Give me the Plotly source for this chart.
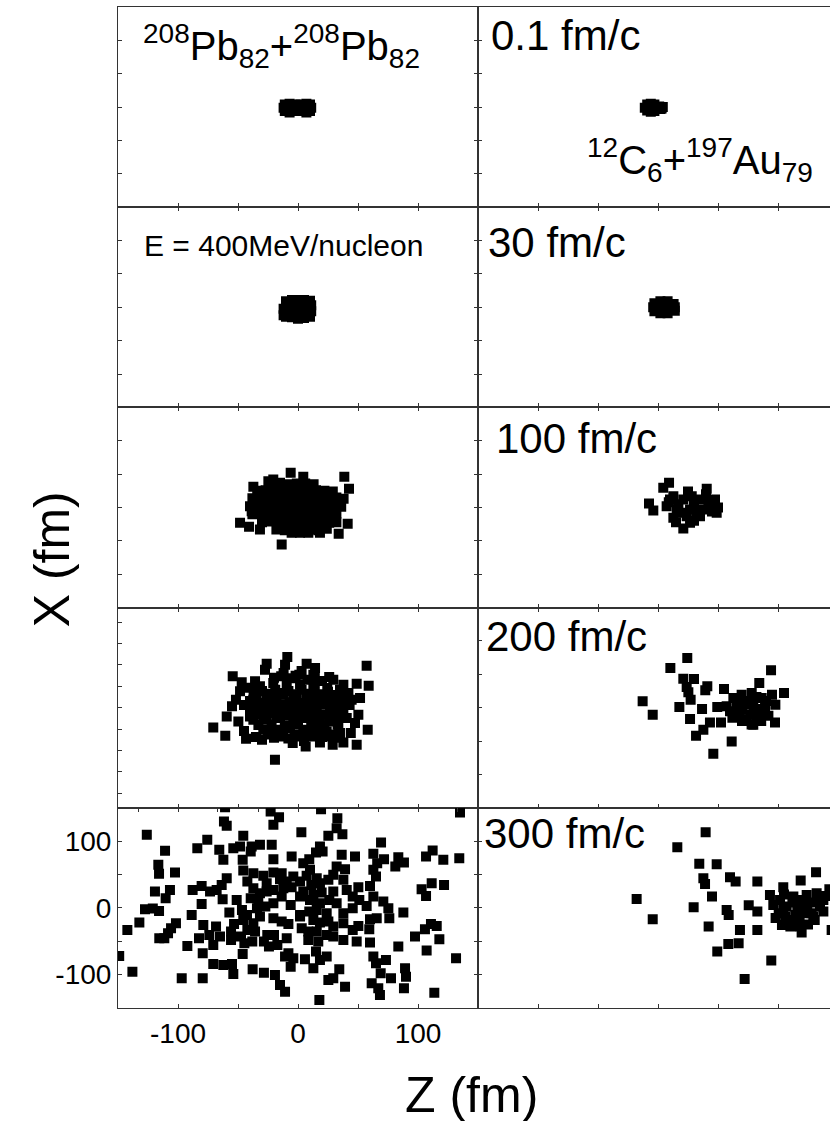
import plotly.graph_objects as go
from plotly.subplots import make_subplots

# ---------------- data: (Z, X) positions in fm ----------------
PB_01 = [(-12, -1), (-11, 4), (-11, -6), (-7, 5), (-7, -8), (-4, -1), (-8, -2), (3, -1),
         (7, 5), (7, -8), (10, 4), (10, -6), (11, -1), (6, -2), (0, 3), (-1, -5),
         (0, -1), (-2, 4), (2, 4), (-2, -6), (2, -6)]
CAU_01 = [(-11, -1), (-9, 4), (-9, -5), (-6, 5), (-6, -7), (-4, -1), (-8, -1), (-3, 4),
          (-3, -6), (1, 1), (3, -2), (4, 0), (2, -3)]
PB_30 = [(-12, -12), (-12, -2), (-10, 9), (-5, 11), (0, 11), (5, 11), (10, 10), (11, 3),
         (11, -6), (10, -14), (5, -16), (0, -17), (-5, -15), (-10, -14), (-5, 0), (0, 0),
         (5, 0), (-6, 6), (6, 6), (0, -9), (-6, -8), (6, -8)]
CAU_30 = [(-4, 0), (-3, 6), (-3, -6), (2, 9), (2, -9), (8, 9), (8, -9), (13, 5), (14, 0),
          (14, -5), (5, 0), (10, 0), (0, 0), (5, 4)]
PB_100 = [(38.6, 46), (42.5, 28), (-48.3, -23), (-40.8, -29), (-31.7, -33), (-13.6, -55.5),
          (33.9, -39.5), (41.4, -24.5), (-6.1, 52), (4.4, 46), (-20.6, 42), (-37.2, 31),
          (-37.2, 12), (-38.6, -5.5), (-28.9, 22), (-24.7, 39.5), (-5.3, -38), (8.6, -38),
          (18.3, -38), (1.7, -38),
          (-22, 36), (-15, 37), (-8, 35), (-1, 36), (6, 36), (13, 35),
          (-34, 25), (-27, 26), (-20, 24), (-13, 26), (-6, 25), (1, 26), (8, 24), (15, 26),
          (22, 25), (29, 24),
          (-38, 14), (-31, 15), (-24, 13), (-17, 14), (-10, 15), (-3, 13), (4, 14), (11, 15),
          (18, 13), (25, 14), (32, 15), (38, 13),
          (-40, 2), (-33, 3), (-26, 1), (-19, 2), (-12, 3), (-5, 1), (2, 2), (9, 3), (16, 1),
          (23, 2), (30, 3), (36, 1),
          (-38, -10), (-31, -9), (-24, -11), (-17, -10), (-10, -9), (-3, -11), (4, -10),
          (11, -9), (18, -11), (25, -10), (32, -9),
          (-30, -22), (-23, -21), (-16, -23), (-9, -22), (-2, -21), (5, -23), (12, -22),
          (19, -21), (26, -23), (32, -22),
          (-18, -33), (-11, -34), (-4, -32), (3, -34), (10, -33), (17, -34), (24, -32)]
CAU_100 = [(9.2, 37), (4.4, 29.5), (40.6, 28), (-7.5, 6), (-3.9, -4.5), (21.1, -31.5),
           (26.7, -23), (47.5, 12), (48.9, -8), (7.2, 2), (12.8, 17), (15.6, -3), (21.1, 12),
           (26.7, -3), (35, 12), (37.8, -3), (12.8, -15.5), (23.9, -13), (35, -13), (43.3, 2),
           (10, 12), (28.1, 17), (17, 5), (30, 5), (42, 7), (20, -8), (32, -8), (45, -6),
           (9, 8), (25, 24), (15, -22), (30, -20), (40, 20), (50, 0)]
PB_200 = [(-8.9, 76), (-26.1, 66), (-10.8, 64.5), (7.2, 66), (14.2, 59.5), (57.2, 63),
          (-54.4, 47), (-46.9, 38), (-35.8, 39.5), (-27.5, 57), (1.1, 49.5), (12.8, 49.5),
          (29.4, 42), (37.8, 34.5), (48.9, 36), (58.9, 33), (-48.3, 24.5), (-51.7, 12),
          (-37.2, 12), (51.7, 14.5), (44.7, 12), (-55, 2), (-59.4, -13), (-49.7, -20.5),
          (-70.6, -29.5), (-60.6, -42), (-43.3, -46.5), (-35, -44), (-19.2, -78), (-4.4, -53),
          (6.4, -58), (18.3, -52), (28.9, -55.5), (37.8, -52), (48.9, -55.5), (58.1, -33),
          (50.3, -10.5), (47.5, -23), (33.6, -28), (26.9, -43), (-23.3, -38), (-12.2, -43),
          (12.8, -43),
          (-31.7, 32), (-20.6, 37), (-9.4, 37), (1.7, 34.5), (12.8, 32), (24.4, 29.5),
          (35, 27), (-34.4, 17), (-23.3, 17), (-12.2, 19.5), (-1.1, 17), (10, 17),
          (21.1, 14.5), (32.2, 12), (-40, -3), (-28.9, -0.5), (-17.8, -0.5), (-6.7, 2),
          (4.4, -0.5), (15.6, 2), (26.7, -3), (37.8, -0.5), (-37.2, -18), (-26.1, -18),
          (-15, -15.5), (-3.9, -18), (7.2, -15.5), (18.3, -18), (29.4, -20.5), (40.6, -15.5),
          (-28.9, -33), (-17.8, -33), (-6.7, -30.5), (4.4, -33), (15.6, -30.5), (23.9, -35.5),
          (35, -38), (1.7, -43),
          (-40, 10), (-29, 7), (-18, 9), (-7, 8), (4, 7), (15, 9), (26, 8), (37, 6),
          (-35, -10), (-24, -8), (-13, -9), (-2, -7), (9, -8), (20, -10), (31, -9),
          (-30, 25), (-19, 27), (-8, 25), (3, 27), (14, 26), (25, 24), (36, 24),
          (-33, -26), (-22, -25), (-11, -27), (0, -25), (11, -26), (22, -27), (33, -25),
          (-20, 45), (-5, 44), (8, 42), (20, 40), (-20, -45), (-8, -46), (20, -44), (30, -45),
          (-40, 30), (-45, -35), (42, 22), (44, -38), (-12, 52), (3, 55), (-30, -48), (5, -50),
          (-37, 20), (-26, 21), (-15, 22), (-4, 20), (7, 21), (18, 20), (29, 19), (40, 18),
          (-40, -13), (-29, -13), (-18, -12), (-7, -12), (4, -13), (15, -12), (26, -13),
          (37, -12), (-25, -40), (-14, -40), (-3, -40), (8, -40), (19, -38), (30, -40),
          (-14, 47), (-2, 48), (14, 45), (26, 46), (-45, 4), (-34, 4), (-23, 4), (-12, 5),
          (-1, 4), (10, 5), (21, 5), (32, 4), (43, 4)]
CAU_200 = [(24.4, 74.5), (10.3, 59.5), (94.2, 56), (21.1, 43.5), (30, 43), (23.9, 31),
           (25.3, 23), (41.1, 32), (39.4, 26), (55, 28), (84.4, 37), (105, 22), (95, 19.5),
           (-12.8, 9.5), (27.2, 12), (17.8, 1), (36.7, -2), (49.4, 1), (-4.4, -10.5),
           (26.7, -17), (43.3, -22), (52.5, -22), (97.5, -22), (97.8, 4.5), (37.8, -33),
           (31.7, -42), (61.4, -50.5), (46.1, -69), (79.4, -25.5), (62.8, 14.5), (69.7, 19.5),
           (78.1, 22), (86.4, 14.5), (89.2, 2), (65.6, 2), (72.5, 4.5), (79.4, 7), (85, -5.5),
           (76.7, -10.5), (68.3, -10.5), (60, -5.5), (73.9, -18), (82.2, -15.5), (87.8, -10.5),
           (57.2, 2), (62, -15), (70, -20), (78, -25), (86, -20), (92, -12), (74, 10), (82, 16),
           (90, 10), (66, 12), (80, -2), (70, -2), (88, -2)]
PB_300 = [(-60.8, 151), (-22.8, 144.5), (-15.8, 136), (19.2, 148), (135, 143), (32.8, 134.5),
          (-61.7, 129.5), (-59.4, 123), (-20.5, 124.5), (-126, 109.5), (2.8, 113.5),
          (32.2, 119.5), (37, 110.5), (25.3, 108), (-45.6, 108), (-75.6, 102), (69.2, 98),
          (-110.8, 85.5), (-83.9, 89.5), (-65.6, 87), (-53.9, 89.5), (-48.3, 92), (-38.6, 92),
          (-31.7, 94.5), (-21.9, 94.5), (-39.4, 84.5), (-62.2, 72), (-46.1, 72), (-20.5, 73),
          (-5.3, 77), (4.4, 67), (9.4, 73), (18.3, 92), (20.5, 84.5), (15, 83), (36.4, 79.5),
          (47.5, 77), (62.8, 81), (71.7, 73), (66, 67), (83.6, 76), (88.3, 68), (81.1, 62),
          (106.7, 77), (112.2, 86), (121.1, 72), (134.4, 74.5), (-116.4, 64.5), (-115.8, 51),
          (-102.5, 53), (32.2, 62), (39.2, 58), (62.8, 57), (65, 47), (-45.6, 56), (-37.2, 52),
          (-28.9, 48), (-20.5, 53), (-13.6, 52), (-15, 43), (-3.9, 47), (10, 57), (15.6, 44.5),
          (25.3, 42), (37.8, 42), (-59.4, 44.5), (-63.6, 34.5), (-42.2, 39.5), (1.7, 39.5),
          (11.1, 34.5), (18.3, 37), (111.4, 37), (121.7, 34.5), (103, 28), (106.7, 18),
          (-119.2, 24.5), (-110.3, 14.5), (-106.7, 27), (-87.8, 27), (-80.3, 33), (-73.3, 24.5),
          (-67.8, 27), (-37.2, 29.5), (-31.7, 22), (-26.1, 24.5), (-20.5, 27), (-12.2, 29.5),
          (-5.3, 31), (4.4, 24.5), (12.8, 19.5), (19.7, 23), (29.4, 24.5), (40.6, 27),
          (50.3, 31), (60, 33), (45.6, 17), (51.1, 12), (62.8, 17), (-62.8, 13), (-51.1, 12),
          (-39.4, 14.5), (-33.1, 9.5), (-20.5, 7), (-13.6, 17), (1.7, 17), (10, 12), (18.3, 7),
          (26.1, 12), (32.2, 7), (57.2, 3), (71.1, 9.5), (75.3, -0.5), (87.8, -7),
          (-127.5, -2), (-115.8, -4.5), (-121, -1), (-80.3, 6), (-88.6, -10.5), (-57.2, -7),
          (-46.7, -3), (-42.5, -10.5), (-34.2, -0.5), (-27.2, 2), (-6.1, 4.5), (1.7, -10.5),
          (9.4, -5.5), (15.6, -3), (23.9, -8), (37.8, -8), (45.6, -0.5), (-132.2, -22),
          (-142.2, -33), (-101.7, -23), (-105.8, -30.5), (-108.3, -38), (-115.6, -45.5),
          (-111.4, -45.5), (-78.9, -25.5), (-68.3, -28), (-53.3, -24), (-45.6, -18),
          (-37.2, -23), (-35.8, -35.5), (-13.6, -20.5), (-8, -24), (1.7, -13), (12.8, -18),
          (18.3, -22), (25.3, -20.5), (37.8, -23), (50.3, -27), (60, -17), (65.6, -15.5),
          (76.1, -15.5), (3.1, -30.5), (8.6, -35.5), (15.6, -35.5), (45.6, -33), (59.4, -32),
          (105.8, -32), (110.8, -24), (115.6, -27), (97.5, -43), (117.8, -47), (-92.2, -57),
          (-82.5, -45.5), (-73.9, -40.5), (-70.6, -55.5), (-65, -43), (-55.8, -48),
          (-47.5, -43), (-44.7, -53), (-38.1, -50.5), (-28.4, -50.5), (-25.6, -40.5),
          (-20, -40.5), (-17.2, -55.5), (-24.2, -58), (-8, -68), (-3.9, -75.5), (-10.8, -73),
          (8.6, -48), (16.9, -50.5), (23.9, -40.5), (29.4, -43), (37.8, -48), (48.9, -50.5),
          (60, -52), (83.6, -58), (107.2, -64), (-79.4, -68), (-70.6, -84), (-62.2, -85.5),
          (-55, -84), (-46.1, -69), (-53.9, -99), (-37.8, -92), (-28.4, -97), (-19.2, -100.5),
          (-15, -115.5), (-10.8, -125.5), (-6.1, -88), (5.8, -77), (12.8, -90.5), (18.3, -78),
          (23.9, -73), (25.3, -108), (29.4, -105.5), (34.4, -92), (39.2, -118), (17.8, -138),
          (62.8, -73), (65, -83), (73.3, -78), (68.9, -98), (77.5, -105.5), (61.4, -113),
          (66.9, -120.5), (68.3, -130.5), (89.2, -90.5), (90, -103), (88.3, -120.5),
          (113.6, -127), (131.7, -75.5), (-96.9, -105.5), (-79.4, -105.5), (-138, -95.5),
          (-149, -72), (15, -65.5), (-26.1, 37), (-9.4, 39.5), (7.2, 48), (29.4, 49.5),
          (-31.7, -13), (-20.5, -15.5), (29.4, -28), (-42.2, -33), (-55.8, -35.5), (-9.4, -45.5)]
CAU_300 = [(39.7, 113.5), (16.1, 91), (34.4, 66), (48.9, 65.5), (37.8, 44.5), (39.2, 36),
           (60, 46), (64.7, 39.5), (82.8, 39.5), (131.7, 53.5), (118.9, 41), (45, 17),
           (-17.8, 13.5), (-4.4, -17), (29.7, 1), (57.2, -3), (58.9, -10.5), (75.6, 4),
           (82.8, -5.5), (42.2, -28), (68.3, -33), (82.8, -33), (67.2, -53), (58.6, -54),
           (49.4, -65.5), (94.4, -79), (72.2, -106.5), (142.8, 28), (144.7, -33), (93.3, 19.5),
           (104.4, 31), (96.1, 4.5), (101.7, 12), (107.2, 2), (112.8, 17), (118.3, 12),
           (123.9, 19.5), (132.2, 22), (137.8, 12), (135, 2), (137.8, -5.5), (129.4, -13),
           (120.6, -8), (114.4, -10.5), (106.1, -13), (100.6, -8), (103.3, -25.5),
           (110.3, -28), (118.3, -28), (119.7, -37), (130.6, -18), (111.1, -18), (116.1, -0.5),
           (124.4, -3), (104.4, -3), (98, -15), (108, -20), (118, -18), (125, -25), (112, 8),
           (122, 5), (130, 8), (140, 18), (128, -8), (105, 20)]

MAJOR_TICKS = [-100, 0, 100]
MAJOR_TEXT = ["-100", "0", "100"]
MINOR_TICKS = [-50, 50]
ROW4_Y_TICKS = [-128, -96, -64, -32, 0, 32, 64, 96, 128]
ROW5_TOP_TICKS = [-133.3, -100, -66.7, -33.3, 0, 33.3, 66.7, 100, 133.3]
TIME_LABELS = ["0.1 fm/c", "30 fm/c", "100 fm/c", "200 fm/c", "300 fm/c"]

FONT = "Liberation Sans, Arial, sans-serif"
LINE = "#333333"

panels = [(PB_01, CAU_01), (PB_30, CAU_30), (PB_100, CAU_100), (PB_200, CAU_200), (PB_300, CAU_300)]

fig = make_subplots(rows=5, cols=2, horizontal_spacing=0, vertical_spacing=0,
                    column_widths=[360, 352])

for r, (left, right) in enumerate(panels, start=1):
    for c, pts in ((1, left), (2, right)):
        fig.add_trace(go.Scatter(
            x=[p[0] for p in pts], y=[p[1] for p in pts], mode="markers",
            marker=dict(symbol="square", size=10, color="black", line=dict(width=0)),
            showlegend=False, hoverinfo="skip"), row=r, col=c)

minor = dict(tickvals=MINOR_TICKS, ticks="inside", ticklen=4, tickcolor=LINE, showgrid=False)

for r in range(1, 6):
    for c in (1, 2):
        bottom_left = (r == 5 and c == 1)
        fig.update_xaxes(range=[-150, 150] if c == 1 else [-150, 143.33],
                         tickvals=MAJOR_TICKS, ticktext=MAJOR_TEXT, minor=minor,
                         showticklabels=bottom_left, ticks="inside", ticklen=4,
                         tickcolor=LINE, showline=True, linecolor=LINE, linewidth=1,
                         mirror=True if r in (1, 5) else "ticks",
                         showgrid=False, zeroline=False,
                         tickfont=dict(family=FONT, size=28, color="black"),
                         row=r, col=c)
        yk = dict(range=[-150, 150], tickvals=MAJOR_TICKS, ticktext=MAJOR_TEXT, minor=minor,
                  showticklabels=bottom_left, ticks="inside", ticklen=4,
                  tickcolor=LINE, showline=True, linecolor=LINE, linewidth=1,
                  mirror="ticks" if c == 1 else False,
                  showgrid=False, zeroline=False,
                  tickfont=dict(family=FONT, size=28, color="black"))
        if r == 4 and c == 1:
            yk.update(tickvals=ROW4_Y_TICKS, minor=dict(tickvals=[], ticks=""), mirror=True)
        fig.update_yaxes(row=r, col=c, **yk)

# extra top ticks of the bottom-left panel
fig.add_trace(go.Scatter(x=[None], y=[None], xaxis="x11", yaxis="y9",
                         showlegend=False, hoverinfo="skip"))
fig.update_layout(xaxis11=dict(overlaying="x9", anchor="y9", side="top", range=[-150, 150],
                               tickvals=ROW5_TOP_TICKS, showticklabels=False,
                               ticks="inside", ticklen=4, tickcolor=LINE, showline=False,
                               showgrid=False, zeroline=False))

annos = [
    dict(text="<sup>208</sup>Pb<sub>82</sub>+<sup>208</sup>Pb<sub>82</sub>", xref="x", yref="y",
         x=-131, y=92, size=40),
    dict(text="E = 400MeV/nucleon", xref="x3", yref="y3", x=-130, y=92, size=30),
    dict(text="<sup>12</sup>C<sub>6</sub>+<sup>197</sup>Au<sub>79</sub>", xref="x2", yref="y2",
         x=-61, y=-80, size=40),
]
time_pos = [(-141, 107), (-143, 97), (-137, 103), (-145, 106), (-147, 111)]
for i, (lab, (ax, ay)) in enumerate(zip(TIME_LABELS, time_pos)):
    n = 2 * (i + 1)
    annos.append(dict(text=lab, xref=f"x{n}", yref=f"y{n}", x=ax, y=ay, size=42))

for a in annos:
    fig.add_annotation(text=a["text"], xref=a["xref"], yref=a["yref"], x=a["x"], y=a["y"],
                       xanchor="left", yanchor="middle", showarrow=False,
                       font=dict(family=FONT, size=a["size"], color="black"))

fig.add_annotation(text="X (fm)", xref="paper", yref="paper", x=-0.093, y=0.448,
                   textangle=-90, showarrow=False, xanchor="center", yanchor="middle",
                   font=dict(family=FONT, size=50, color="black"))
fig.add_annotation(text="Z (fm)", xref="paper", yref="paper", x=0.497, y=-0.087,
                   showarrow=False, xanchor="center", yanchor="middle",
                   font=dict(family=FONT, size=50, color="black"))

fig.update_layout(width=830, height=1121, margin=dict(l=118, r=0, t=7, b=113),
                  paper_bgcolor="white", plot_bgcolor="white",
                  font=dict(family=FONT, color="black"))

fig.write_html("out.html", config={"displayModeBar": False},
               post_script="document.body.style.margin='0px';document.body.style.overflow='hidden';")
